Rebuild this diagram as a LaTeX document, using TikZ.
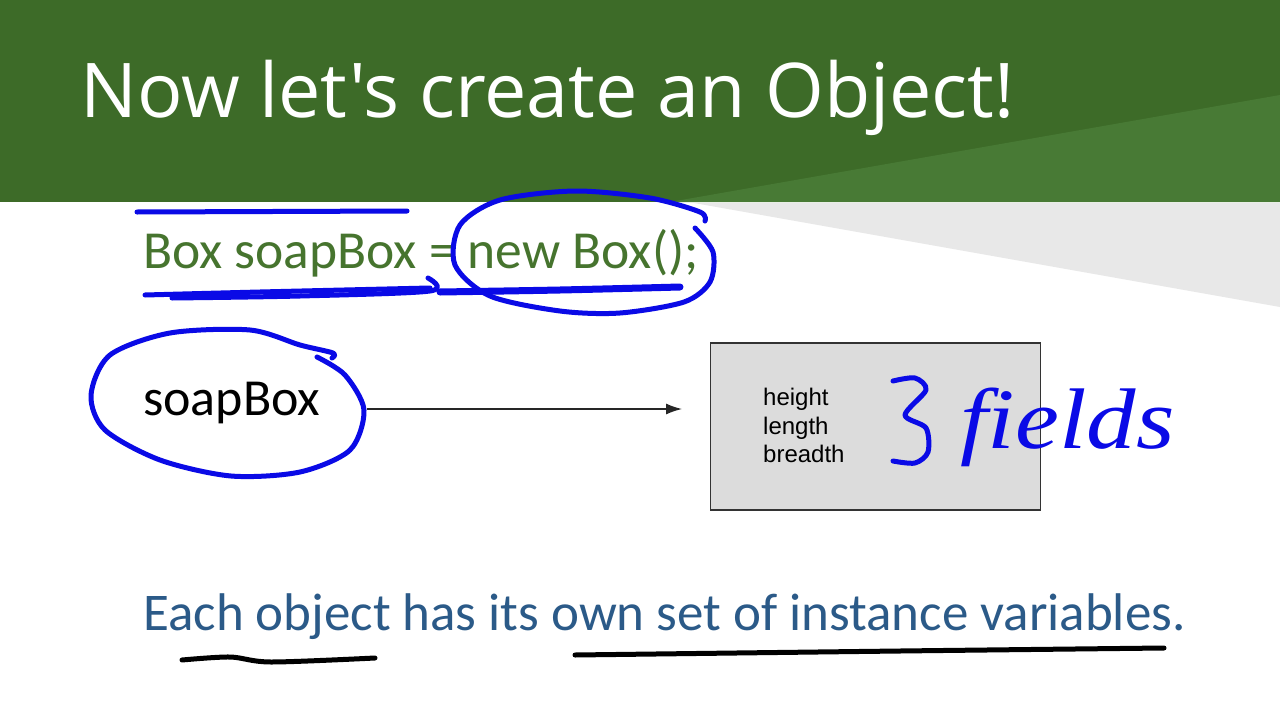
\documentclass[tikz,border=0pt]{standalone}
\usepackage{fontspec}
\setmainfont{Carlito}
\newfontfamily\titlefont{Open Sans}
\newfontfamily\arialfont{Liberation Sans}
\newfontfamily\handfont{Liberation Serif}
\usepackage{tikz}
\usetikzlibrary{arrows.meta,shapes.geometric}
\definecolor{slgreen}{HTML}{3D6B28}
\definecolor{sllight}{HTML}{487A35}
\definecolor{slgray}{HTML}{E8E8E8}
\definecolor{codegreen}{HTML}{46742E}
\definecolor{noteblue}{HTML}{2B5A88}
\definecolor{inkblue}{HTML}{0A0AE6}
\definecolor{boxgray}{HTML}{DCDCDC}

\begin{document}
\begin{tikzpicture}[x=1pt,y=-1pt,>={Latex[length=16pt,width=11pt]},
  ink/.style={draw=inkblue, line width=5pt, line cap=round, line join=round},
  pen/.style={draw=black, line width=5pt, line cap=round, line join=round}]
  \useasboundingbox (0,0) rectangle (1280,720);
  % slide background
  \fill[white] (0,0) rectangle (1280,720);
  \fill[slgreen] (0,0) rectangle (1280,202);
  \fill[sllight] (670,202) -- (1280,95) -- (1280,202) -- cycle;
  \fill[slgray] (694,203) -- (1280,203) -- (1280,307) -- cycle;
  \node[anchor=base west, inner sep=0, text=white] (title) at (80,117)
    {\titlefont\fontsize{75.5}{80}\selectfont Now let's create an Object!};
  \node[anchor=base west, inner sep=0, text=codegreen] (code) at (143,268)
    {\fontsize{53.5}{58}\selectfont Box soapBox = new Box();};
  % reference and object
  \node[ellipse, minimum width=276pt, minimum height=146pt, inner sep=0] (ref) at (229,409) {};
  \node[anchor=base west, inner sep=0] (refname) at (143,415)
    {\fontsize{52}{56}\selectfont soapBox};
  \node[draw=black!80, line width=1.5pt, fill=boxgray, minimum width=330pt,
        minimum height=167pt, inner sep=0] (obj) at (875.5,426.5) {};
  \node[anchor=north west, inner sep=0, align=left,
        font=\arialfont\fontsize{24}{28.5}\selectfont] (fieldlist) at (763,388)
    {height\\length\\breadth};
  \coordinate (tip) at (682,409);
  \draw[->, black!85, line width=1.3pt] (ref.east) -- (tip);
  % bottom line
  \node[anchor=base west, inner sep=0, text=noteblue] (note) at (143,630)
    {\fontsize{53}{58}\selectfont Each object has its own set of instance variables.};
  % ink marks
  \draw[ink] (137,212) -- (407,211);
  \draw[ink] plot[smooth] coordinates {(145,295) (260,292) (430,288)};
  \draw[ink] plot[smooth] coordinates {(172,298) (300,296) (430,291) (428,278)};
  \draw[ink, line width=7pt] plot[smooth] coordinates {(440,292) (560,290) (680,287)};
  \draw[ink] plot[smooth] coordinates {(695,228) (713,252) (710,282) (684,302)
    (620,313) (560,311) (490,296) (455,265) (460,225) (500,200) (575,191)
    (650,198) (700,212) (705,221)};
  \draw[ink] plot[smooth] coordinates {(317,357) (345,375) (364,410) (350,450)
    (300,472) (231,476) (160,460) (105,430) (91,395) (110,355) (170,333)
    (250,330) (300,345) (333,353) (332,358)};
  \draw[ink] plot[smooth] coordinates {(893,381) (915,378) (926,390) (905,415)
    (926,428) (928,452) (915,463) (893,461)};
  \node[anchor=base west, inner sep=0, text=inkblue, xscale=1.15] (fieldsword) at (960,448)
    {\handfont\itshape\fontsize{86}{90}\selectfont fields};
  \draw[pen] plot[smooth] coordinates {(182,660) (230,657) (271,662) (375,658)};
  \draw[pen] plot[smooth] coordinates {(575,655) (900,651) (1164,648)};
\end{tikzpicture}
\end{document}
